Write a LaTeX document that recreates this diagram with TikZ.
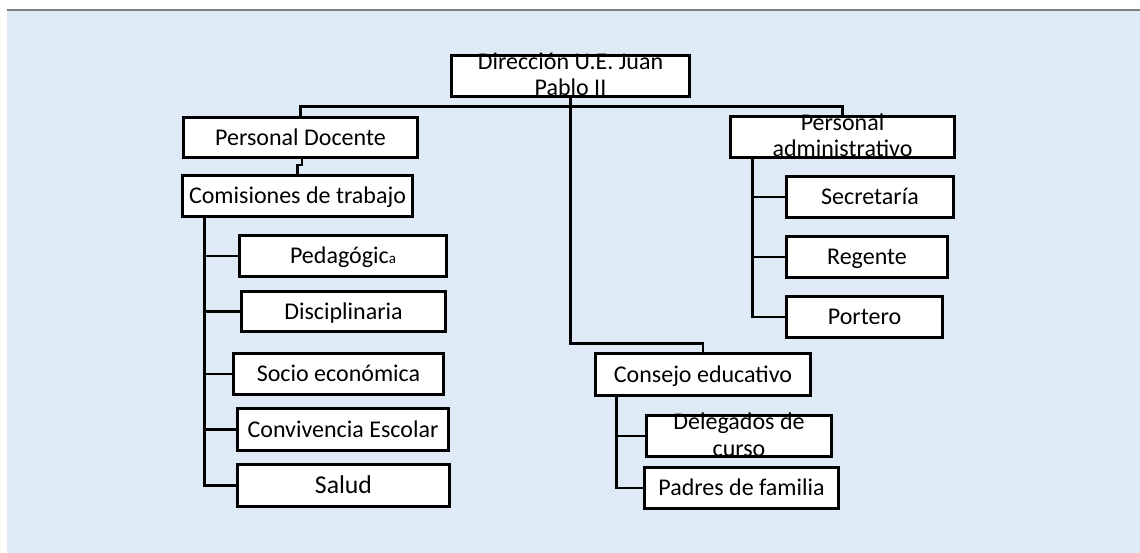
\documentclass[tikz,border=0pt]{standalone}
\usepackage{fontspec}
\setmainfont{Carlito}
\usetikzlibrary{calc}
\definecolor{bgblue}{RGB}{222,234,246}
\definecolor{rulegray}{RGB}{128,128,128}
\begin{document}
\begin{tikzpicture}[x=1pt,y=-1pt,
  box/.style={draw=black, line width=2.9pt, fill=white, inner sep=0pt,
    text height=15.3pt, text depth=0pt, font=\fontsize{24}{26}\selectfont},
  twoline/.style={align=center, inner sep=0pt, text depth=0pt, anchor=south,
    font=\fontsize{24}{26.5}\selectfont},
  conn/.style={line width=2.9pt, draw=black}]
\useasboundingbox (0,0) rectangle (1140,553);
\fill[bgblue] (7,11) rectangle (1140,553);
\draw[rulegray, line width=2pt] (7,10) -- (1140,10);

% top
\node[box, minimum width=238pt, minimum height=41pt] (dir) at (570.5,76) {};
\node[twoline] (dirt) at (570.5,96) {Dirección U.E. Juan\\Pablo II};

% left branch
\node[box, minimum width=234pt, minimum height=40pt] (pd) at (300.5,137.5) {Personal Docente};
\node[box, minimum width=230pt, minimum height=41pt] (com) at (297.5,196) {Comisiones de trabajo};
\node[box, minimum width=207pt, minimum height=41pt] (ped) at (343,256) {Pedagógic{\fontsize{15}{18}\selectfont a}};
\node[box, minimum width=204pt, minimum height=40pt] (dis) at (343.5,311.5) {Disciplinaria};
\node[box, minimum width=210pt, minimum height=41pt] (soc) at (338.5,374) {Socio económica};
\node[box, minimum width=211pt, minimum height=42pt] (con) at (343,429.5) {Convivencia Escolar};
\node[box, minimum width=212pt, minimum height=42pt, text height=16.5pt,
      font=\fontsize{25.7}{28}\selectfont] (sal) at (343.5,485.5) {Salud};

% right branch
\node[box, minimum width=224pt, minimum height=41pt] (pa) at (842.5,137) {};
\node[twoline] (pat) at (842.5,157) {Personal\\administrativo};
\node[box, minimum width=167pt, minimum height=41pt] (sec) at (870,197) {Secretaría};
\node[box, minimum width=161pt, minimum height=41pt] (reg) at (867,257) {Regente};
\node[box, minimum width=156pt, minimum height=41pt] (por) at (864.5,317) {Portero};

% middle branch
\node[box, minimum width=215pt, minimum height=42pt] (cons) at (703,374.5) {Consejo educativo};
\node[box, minimum width=185pt, minimum height=41pt] (del) at (739,436) {};
\node[twoline] (delt) at (739,456.5) {Delegados de\\curso};
\node[box, minimum width=194pt, minimum height=41pt] (pad) at (741.5,488) {Padres de familia};

% connectors
\draw[conn] (pd.north) -- ++(0,-9.5) -| (pa.north);
\draw[conn] (dir.south) |- ($(cons.north)+(0,-9)$) -| (cons.north);
\draw[conn] ($(pd.south)+(1.5,0)$) |- ($(com.north)+(0,-9)$) -| (com.north);

\coordinate (comx) at ($(com.south west)+(23,0)$);
\foreach \n in {ped,dis,soc,con,sal} \draw[conn] (comx) |- (\n.west);

\coordinate (pax) at ($(pa.south west)+(23,0)$);
\foreach \n in {sec,reg,por} \draw[conn] (pax) |- (\n.west);

\coordinate (consx) at ($(cons.south west)+(22,0)$);
\foreach \n in {del,pad} \draw[conn] (consx) |- (\n.west);
\end{tikzpicture}
\end{document}
